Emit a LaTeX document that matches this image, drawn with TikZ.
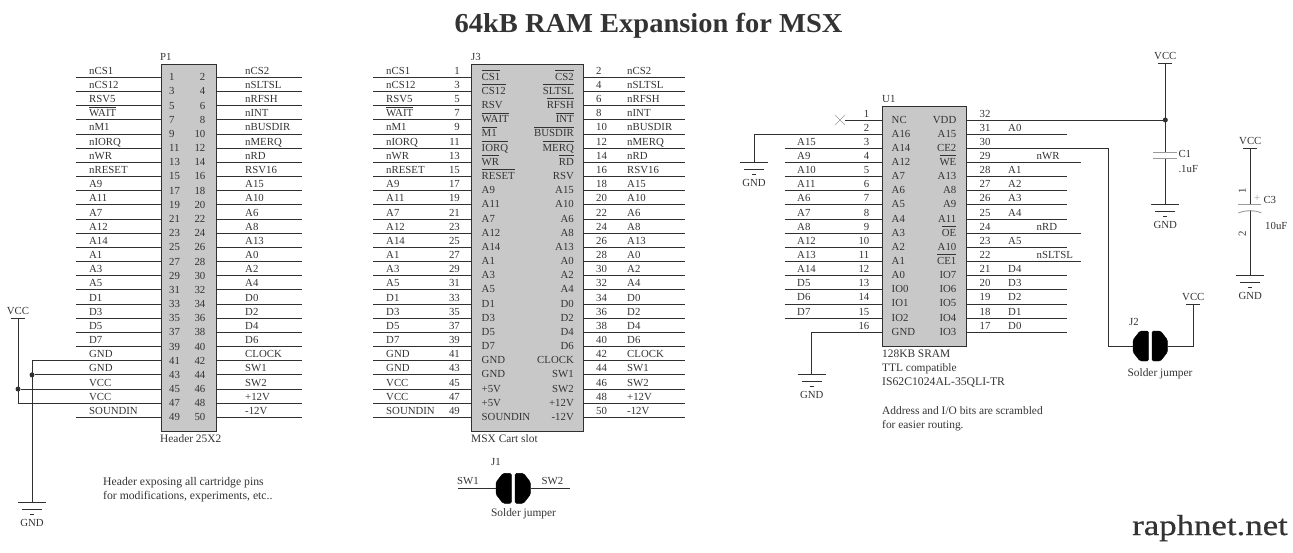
\documentclass[tikz,border=0pt]{standalone}
\usepackage{fontspec}
\usepackage{xcolor}
\setmainfont{Liberation Serif}
\newfontfamily\titlefont[FakeStretch=1.04]{Liberation Serif}
\newfontfamily\brandfont[FakeStretch=1.2,FakeBold=0.6]{Liberation Serif}

\definecolor{chipfill}{HTML}{C8C8C8}
\definecolor{wirecol}{HTML}{303030}
\definecolor{textcol}{HTML}{333333}
\definecolor{platecol}{HTML}{9A9A9A}

\newcommand{\ovl}[1]{$\overline{\mbox{\rule{0pt}{8.6pt}#1}}$}

\tikzset{
  wire/.style={draw=wirecol, line width=0.85pt},
  plate/.style={draw=platecol, line width=0.9pt},
  chip/.style={draw=wirecol, fill=chipfill, line width=0.9pt, anchor=north west, inner sep=0pt},
  lbl/.style={font=\fontsize{10.8}{12}\selectfont, text=textcol, inner sep=0pt, anchor=base west},
  lblr/.style={lbl, anchor=base east},
  lblc/.style={lbl, anchor=base},
  note/.style={lbl, font=\fontsize{11.4}{13}\selectfont},
  longnote/.style={lbl, font=\fontsize{11.7}{13}\selectfont},
  dot/.style={fill=wirecol, draw=none, circle, minimum size=5pt, inner sep=0pt},
  pad/.style={fill=black, draw=black, line width=0.4pt, line join=round, rounded corners=1.5pt},
}

% ground symbol: name, x, y of the top bar
\newcommand{\gndsym}[3]{
  \coordinate (#1) at (#2,#3);
  \draw[wire] ([xshift=-14pt]#1) -- ([xshift=14pt]#1);
  \draw[wire] ([xshift=-10pt,yshift=-7pt]#1) -- ([xshift=10pt,yshift=-7pt]#1);
  \draw[wire] ([xshift=-2pt,yshift=-12pt]#1) -- ([xshift=2pt,yshift=-12pt]#1);
  \node[lblc] (#1txt) at (#2,#3+24) {GND};
}
% supply symbol: name, x, y of the bar
\newcommand{\vccsym}[3]{
  \coordinate (#1) at (#2,#3);
  \draw[wire] ([xshift=-7pt]#1) -- ([xshift=7pt]#1);
  \node[lblc] (#1txt) at (#2,#3-4) {VCC};
}
% solder jumper: name, x of left pad edge, y of centre
\newcommand{\jumper}[3]{
  \coordinate (#1L) at (#2,#3);
  \coordinate (#1R) at (#2+34.5,#3);
  \filldraw[pad] (#2+15.5,#3-15) -- (#2+7,#3-15) -- (#2,#3-6) -- (#2,#3+6) -- (#2+7,#3+15) -- (#2+15.5,#3+15) -- cycle;
  \filldraw[pad] (#2+19,#3-15) -- (#2+27.5,#3-15) -- (#2+34.5,#3-6) -- (#2+34.5,#3+6) -- (#2+27.5,#3+15) -- (#2+19,#3+15) -- cycle;
}

\begin{document}
\begin{tikzpicture}[x=1pt,y=-1pt]

    \useasboundingbox (0,0) rectangle (1293,552);

    % Titles
    \node[font=\titlefont\bfseries\fontsize{27.4}{30}\selectfont, text=textcol, inner sep=0pt, anchor=base] (title) at (648.5,32) {64kB RAM Expansion for MSX};
    \node[font=\brandfont\fontsize{29}{32}\selectfont, text=textcol, inner sep=0pt, anchor=base] (brand) at (1210,535) {raphnet.net};

    % Header P1
    \node[chip, minimum width=55pt, minimum height=367pt] (P1) at (160.5,63.5) {};
    \node[lbl] (P1ref) at (160,60) {P1};
    \node[note] (P1val) at (160,442) {Header 25X2};

    \foreach \nm [count=\i, evaluate=\i as \y using 77.3+14.17*(\i-1), evaluate=\i as \n using int(2*\i-1)] in
      {nCS1,nCS12,RSV5,\ovl{WAIT},nM1,nIORQ,nWR,nRESET,A9,A11,A7,A12,A14,A1,A3,A5,D1,D3,D5,D7,GND,GND,VCC,VCC,SOUNDIN} {
        \coordinate (P1l\n) at (76,\y);
        \draw[wire] (P1l\n) -- (P1l\n -| P1.west);
        \node[lbl] (P1lt\n) at (89,\y-3) {\nm};
        \node[lbl] (P1ln\n) at (169,\y+3.5) {\n};
    }
    \foreach \nm [count=\i, evaluate=\i as \y using 77.3+14.17*(\i-1), evaluate=\i as \n using int(2*\i)] in
      {nCS2,nSLTSL,nRFSH,nINT,nBUSDIR,nMERQ,nRD,RSV16,A15,A10,A6,A8,A13,A0,A2,A4,D0,D2,D4,D6,CLOCK,SW1,SW2,+12V,-12V} {
        \coordinate (P1r\n) at (302,\y);
        \draw[wire] (P1.east |- P1r\n) -- (P1r\n);
        \node[lbl] (P1rt\n) at (245,\y-3) {\nm};
        \node[lblr] (P1rn\n) at (205.5,\y+3.5) {\n};
    }

    % Slot J3
    \node[chip, minimum width=112pt, minimum height=367pt] (J3) at (471.3,63.5) {};
    \node[lbl] (J3ref) at (471,60) {J3};
    \node[note] (J3val) at (471,442) {MSX Cart slot};

    \foreach \nm/\inner [count=\i, evaluate=\i as \y using 77.3+14.17*(\i-1), evaluate=\i as \n using int(2*\i-1)] in
      {nCS1/\ovl{CS1},nCS12/\ovl{CS12},RSV5/RSV,\ovl{WAIT}/\ovl{WAIT},nM1/\ovl{M1},nIORQ/\ovl{IORQ},nWR/\ovl{WR},nRESET/\ovl{RESET},A9/A9,A11/A11,A7/A7,A12/A12,A14/A14,A1/A1,A3/A3,A5/A5,D1/D1,D3/D3,D5/D5,D7/D7,GND/GND,GND/GND,VCC/+5V,VCC/+5V,SOUNDIN/SOUNDIN} {
        \coordinate (J3l\n) at (373,\y);
        \draw[wire] (J3l\n) -- (J3l\n -| J3.west);
        \node[lbl] (J3lt\n) at (386,\y-3) {\nm};
        \node[lblr] (J3ln\n) at (460,\y-3) {\n};
        \node[lbl] (J3li\n) at (481.5,\y+3) {\inner};
    }
    \foreach \nm/\inner [count=\i, evaluate=\i as \y using 77.3+14.17*(\i-1), evaluate=\i as \n using int(2*\i)] in
      {nCS2/\ovl{CS2},nSLTSL/\ovl{SLTSL},nRFSH/\ovl{RFSH},nINT/\ovl{INT},nBUSDIR/\ovl{BUSDIR},nMERQ/\ovl{MERQ},nRD/\ovl{RD},RSV16/RSV,A15/A15,A10/A10,A6/A6,A8/A8,A13/A13,A0/A0,A2/A2,A4/A4,D0/D0,D2/D2,D4/D4,D6/D6,CLOCK/CLOCK,SW1/SW1,SW2/SW2,+12V/+12V,-12V/-12V} {
        \coordinate (J3r\n) at (685,\y);
        \draw[wire] (J3.east |- J3r\n) -- (J3r\n);
        \node[lbl] (J3rt\n) at (627,\y-3) {\nm};
        \node[lbl] (J3rn\n) at (596,\y-3) {\n};
        \node[lblr] (J3ri\n) at (574,\y+3) {\inner};
    }

    % Supply and ground of the header
    \vccsym{vccA}{18}{318.5}
    \gndsym{gndA}{32}{502.3}
    \draw[wire] (vccA) |- (P1l47);
    \draw[wire] (gndA) |- (P1l41);
    \node[dot] (dotA) at (vccA |- P1l45) {};
    \node[dot] (dotB) at (gndA |- P1l43) {};
    \draw[wire] (dotA) -- (P1l45);
    \draw[wire] (dotB) -- (P1l43);
    \node[longnote] (noteA) at (103,485) {Header exposing all cartridge pins};
    \node[longnote] (noteB) at (103,499) {for modifications, experiments, etc..};

    % Jumper J1
    \jumper{J1}{496}{488.3}
    \coordinate (J1a) at (458,488.3);
    \coordinate (J1b) at (570,488.3);
    \draw[wire] (J1a) -- (J1L);
    \draw[wire] (J1R) -- (J1b);
    \node[lbl] (J1ref) at (491,465.5) {J1};
    \node[lbl] (J1sa) at (457,484.5) {SW1};
    \node[lbl] (J1sb) at (541.5,484.5) {SW2};
    \node[note, anchor=base] (J1val) at (523.5,516.5) {Solder jumper};

    % SRAM U1
    \node[chip, minimum width=84pt, minimum height=240pt] (U1) at (882.3,105.7) {};
    \node[lbl] (U1ref) at (882,102) {U1};

    \foreach \nm/\inner/\n/\xa [count=\i, evaluate=\i as \y using 120+14.15*(\i-1)] in
      {/NC/1/845,/A16/2/754,A15/A14/3/785,A9/A12/4/785,A10/A7/5/785,A11/A6/6/785,A6/A5/7/785,A7/A4/8/785,A8/A3/9/785,A12/A2/10/785,A13/A1/11/785,A14/A0/12/785,D5/IO0/13/785,D6/IO1/14/785,D7/IO2/15/785,/GND/16/811.7} {
        \coordinate (U1l\n) at (\xa,\y);
        \draw[wire] (U1l\n) -- (U1l\n -| U1.west);
        \node[lbl] (U1lt\n) at (797,\y-3) {\nm};
        \node[lblr] (U1ln\n) at (869.5,\y-3) {\n};
        \node[lbl] (U1li\n) at (891.5,\y+3) {\inner};
    }
    \foreach \nm/\inner/\n/\xa/\xb [count=\i, evaluate=\i as \y using 120+14.15*(\i-1)] in
      {/VDD/32/1165.3/1008,A0/A15/31/1066.7/1008,/CE2/30/1108.3/1008,nWR/\ovl{WE}/29/1081/1036.5,A1/A13/28/1066.7/1008,A2/A8/27/1066.7/1008,A3/A9/26/1066.7/1008,A4/A11/25/1066.7/1008,nRD/\ovl{OE}/24/1081/1036.5,A5/A10/23/1066.7/1008,nSLTSL/\ovl{CE1}/22/1081/1036.5,D4/IO7/21/1066.7/1008,D3/IO6/20/1066.7/1008,D2/IO5/19/1066.7/1008,D1/IO4/18/1066.7/1008,D0/IO3/17/1066.7/1008} {
        \coordinate (U1r\n) at (\xa,\y);
        \draw[wire] (U1.east |- U1r\n) -- (U1r\n);
        \node[lbl] (U1rt\n) at (\xb,\y-3) {\nm};
        \node[lbl] (U1rn\n) at (979.5,\y-3) {\n};
        \node[lblr] (U1ri\n) at (956.5,\y+3) {\inner};
    }
    % the crossed out pin
    \coordinate (xa) at (835,115);
    \coordinate (xb) at (845,125);
    \coordinate (xc) at (835,125);
    \coordinate (xd) at (845,115);
    \draw[plate, line width=0.6pt] (xa) -- (xb);
    \draw[plate, line width=0.6pt] (xc) -- (xd);

    \node[note] (U1a) at (882,357) {128KB SRAM};
    \node[note] (U1b) at (882,371) {TTL compatible};
    \node[longnote] (U1c) at (882,385.5) {IS62C1024AL-35QLI-TR};
    \node[note] (U1d) at (882,414) {Address and I/O bits are scrambled};
    \node[note] (U1e) at (882,428.5) {for easier routing.};

    \gndsym{gndB}{754}{162.3}
    \gndsym{gndC}{811.7}{374}
    \draw[wire] (U1l2) -- (gndB);
    \draw[wire] (U1l16) -- (gndC);

    % C1
    \vccsym{vccB}{1165.3}{63.3}
    \gndsym{gndD}{1165.3}{204}
    \node[dot] (dotC) at (U1r32) {};
    \coordinate (C1a) at (1165.3,152.3);
    \coordinate (C1b) at (1165.3,158.3);
    \draw[wire] (vccB) -- (C1a);
    \draw[wire] (C1b) -- (gndD);
    \draw[plate] ([xshift=-12pt]C1a) -- ([xshift=11.5pt]C1a);
    \draw[plate] ([xshift=-12pt]C1b) -- ([xshift=11.5pt]C1b);
    \node[lbl] (C1ref) at (1178.3,157.5) {C1};
    \node[lbl] (C1val) at (1178.3,172) {.1uF};

    % C3
    \vccsym{vccC}{1250.3}{148.3}
    \gndsym{gndE}{1250.3}{275.3}
    \coordinate (C3a) at (1250.3,204.3);
    \coordinate (C3b) at (1250.3,210);
    \draw[wire] (vccC) -- (C3a);
    \draw[wire] (C3b) -- (gndE);
    \draw[plate] ([xshift=-12pt]C3a) -- ([xshift=10.5pt]C3a);
    \draw[plate] ([xshift=-12pt,yshift=-3pt]C3b) .. controls ([xshift=-6pt,yshift=0pt]C3b) and ([xshift=6pt,yshift=0pt]C3b) .. ([xshift=11pt,yshift=-3pt]C3b);
    \node[lbl, text=platecol] (C3plus) at (1254,201) {+};
    \node[lbl] (C3ref) at (1263.3,203.5) {C3};
    \node[lbl] (C3val) at (1265,229.5) {10uF};
    \node[lbl, rotate=90, anchor=center] (C3pa) at (1242.3,190.7) {1};
    \node[lbl, rotate=90, anchor=center] (C3pb) at (1242.3,233.3) {2};

    % Jumper J2
    \jumper{J2}{1133}{346}
    \vccsym{vccD}{1193.3}{304.3}
    \draw[wire] (U1r30) -- (U1r30 |- J2L) -- (J2L);
    \draw[wire] (J2R) -| (vccD);
    \node[lblc] (J2ref) at (1134,325.5) {J2};
    \node[note, anchor=base] (J2val) at (1160,376) {Solder jumper};

\end{tikzpicture}
\end{document}
